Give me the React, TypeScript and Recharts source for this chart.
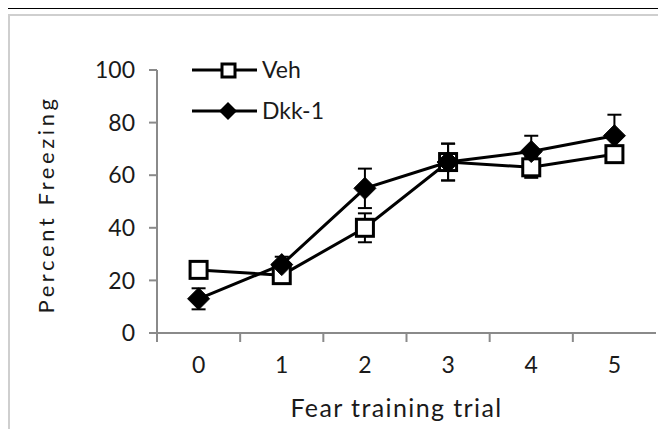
import { LineChart, Line, XAxis, YAxis, ErrorBar, Label } from 'recharts'

const trials = [0, 1, 2, 3, 4, 5]
const vehMean = [24, 22, 40, 65, 63, 68]
const vehSem = [3, 3, 5.5, 7, 4, 3]
const dkkMean = [13, 26, 55, 65, 69, 75]
const dkkSem = [4, 3, 7.5, 7, 6, 8]
const yTicks = [0, 20, 40, 60, 80, 100]

const data = trials.map((t, i) => ({
  trial: t,
  veh: vehMean[i],
  vehErr: vehSem[i],
  dkk: dkkMean[i],
  dkkErr: dkkSem[i],
}))

const FONT = 'Lato, "Open Sans", sans-serif'
const AXIS = '#8a8a8a'
const TEXT = '#1a1a1a'
const X_TICK_MARGIN = 24

function SquareDot(props: any) {
  const { cx, cy } = props
  if (cx == null || cy == null) return null
  const s = 17
  return <rect x={cx - s / 2} y={cy - s / 2} width={s} height={s} fill="#fff" stroke="#000" strokeWidth={3} />
}

function DiamondDot(props: any) {
  const { cx, cy } = props
  if (cx == null || cy == null) return null
  const r = 11
  return <path d={`M${cx},${cy - r}L${cx + r},${cy}L${cx},${cy + r}L${cx - r},${cy}Z`} fill="#000" stroke="#000" strokeWidth={1} />
}

// Excel-style category tick: label under the point, tick mark on the left category boundary
function XTick(props: any) {
  const { x, y, payload, width } = props
  const half = width / (trials.length * 2)
  const axisY = y - X_TICK_MARGIN
  return (
    <g>
      <line x1={x - half} x2={x - half} y1={axisY} y2={axisY + 9} stroke={AXIS} strokeWidth={2} />
      <text x={x} y={y} dy="0.71em" textAnchor="middle" fontSize={23} fontFamily={FONT} fill={TEXT}>
        {payload.value}
      </text>
    </g>
  )
}

// legend drawn as an overlay so it doesn't eat plot space
function ChartLegend() {
  return (
    <svg width={360} height={130} style={{ position: 'absolute', left: 0, top: 0 }}>
      <line x1={192} x2={257} y1={70} y2={70} stroke="#000" strokeWidth={3} />
      <rect x={222} y={64} width={13} height={13} fill="#fff" stroke="#000" strokeWidth={3} />
      <text x={262} y={78} fontSize={23} fontFamily={FONT} fill={TEXT}>Veh</text>
      <line x1={192} x2={257} y1={111} y2={111} stroke="#000" strokeWidth={3} />
      <path d="M228,102L237,111L228,120L219,111Z" fill="#000" />
      <text x={262} y={119} fontSize={23} fontFamily={FONT} fill={TEXT}>Dkk-1</text>
    </svg>
  )
}

export default function App() {
  return (
    <div style={{ position: 'relative', width: 666, height: 429, margin: '-8px 0 0 -8px', background: '#fff', overflow: 'hidden' }}>
      <div style={{ position: 'absolute', left: 0, top: 7, width: 666, height: 2, background: '#000' }} />
      <div style={{ position: 'absolute', left: 8, top: 14, width: 720, height: 500, border: '2px solid #cfcfcf' }} />
      <div style={{ position: 'absolute', left: 0, top: 0 }}>
        <LineChart width={666} height={429} data={data} margin={{ top: 70, right: 10, left: 0, bottom: 0 }}>
          <XAxis
            dataKey="trial"
            type="number"
            domain={[-0.5, 5.5]}
            ticks={trials}
            tickLine={false}
            tickSize={0}
            tickMargin={X_TICK_MARGIN}
            height={96}
            stroke={AXIS}
            strokeWidth={2}
            tick={<XTick />}
          >
            <Label value="Fear training trial" position="insideBottom" offset={12} dx={-10} style={{ fontSize: 25, fontFamily: FONT, fill: TEXT, letterSpacing: 1.4 }} />
          </XAxis>
          <YAxis
            domain={[0, 100]}
            ticks={yTicks}
            width={157}
            tickSize={8}
            tickMargin={14}
            stroke={AXIS}
            strokeWidth={2}
            tick={{ fontSize: 23, fontFamily: FONT, fill: TEXT }}
          >
            <Label
              content={({ viewBox }: any) => {
                const x = viewBox.x + 45
                const y = viewBox.y + viewBox.height / 2 + 3
                return (
                  <text x={x} y={y} transform={`rotate(-90 ${x} ${y})`} textAnchor="middle" dominantBaseline="central" fontSize={22} fontFamily={FONT} fill={TEXT} letterSpacing={3.6}>
                    Percent Freezing
                  </text>
                )
              }}
            />
          </YAxis>
          <Line dataKey="veh" stroke="#000" strokeWidth={3} dot={<SquareDot />} activeDot={false} isAnimationActive={false}>
            <ErrorBar dataKey="vehErr" direction="y" width={7} stroke="#000" strokeWidth={2} />
          </Line>
          <Line dataKey="dkk" stroke="#000" strokeWidth={3} dot={<DiamondDot />} activeDot={false} isAnimationActive={false}>
            <ErrorBar dataKey="dkkErr" direction="y" width={7} stroke="#000" strokeWidth={2} />
          </Line>
        </LineChart>
      </div>
      <ChartLegend />
    </div>
  )
}
